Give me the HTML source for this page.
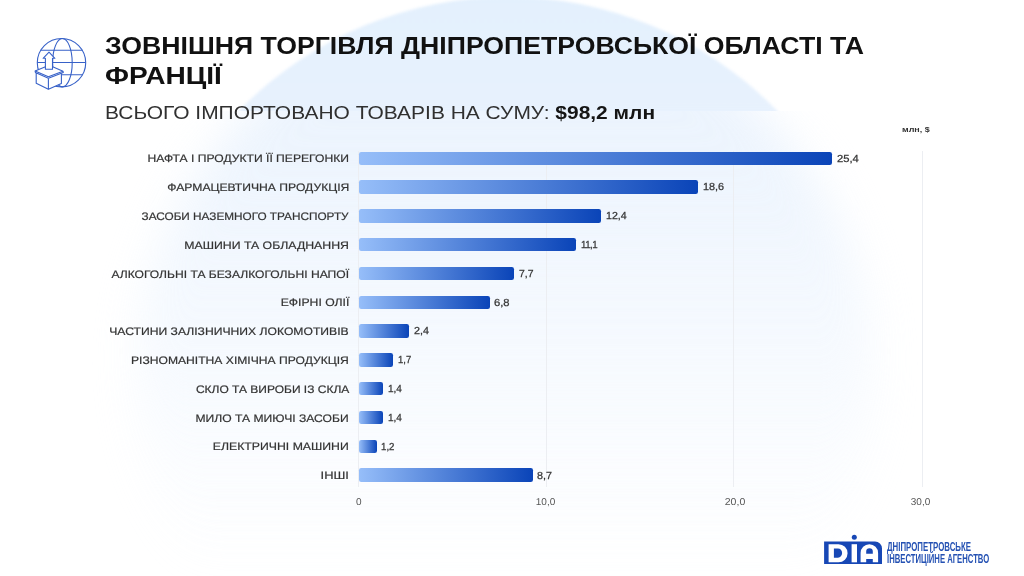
<!DOCTYPE html>
<html lang="uk"><head><meta charset="utf-8"><title>Зовнішня торгівля</title><style>
html,body{margin:0;padding:0}
body{width:1024px;height:576px;position:relative;overflow:hidden;background:#fff;font-family:"Liberation Sans",sans-serif}
.a{position:absolute;white-space:nowrap}
.circ{position:absolute;left:133px;top:-3px;width:750px;height:750px;filter:blur(1.5px);border-radius:50%;
 background:linear-gradient(to bottom,#E3F0FD 0%,#E7F1FD 14%,rgba(236,244,254,0.6) 46%,rgba(255,255,255,0) 78%)}
.panel{position:absolute;left:0;top:111px;width:1024px;height:465px;overflow:hidden;background:#fff}
.circ2{position:absolute;left:137px;top:-99px;width:736px;height:720px;border-radius:50%;filter:blur(22px);opacity:.8;
 background:linear-gradient(to bottom,#E3F0FD 0%,#E7F1FD 14%,rgba(236,244,254,0.6) 46%,rgba(255,255,255,0) 78%)}
.t1{font-weight:700;color:#111;font-size:24.5px;line-height:24.5px;transform-origin:0 0}
.sub{color:#303030;font-size:19px;line-height:19px;transform-origin:0 0}
.lbl{text-rendering:geometricPrecision;color:#333;-webkit-text-stroke:0.2px #333;font-size:10.9px;line-height:10.9px;transform-origin:100% 0;text-align:right}
.val{text-rendering:geometricPrecision;color:#333;-webkit-text-stroke:0.25px #333;font-size:10.2px;line-height:10.2px;transform-origin:0 0}
.ax{text-rendering:geometricPrecision;color:#555;font-size:10px;line-height:10px;transform-origin:50% 0;text-align:center;width:40px}
.bar{position:absolute;height:13.4px;border-radius:2.2px;background:linear-gradient(to right,#96BEF9,#0A44B8)}
.grid{position:absolute;width:1px;background:#ECEEF2}
</style></head><body>
<div class="circ"></div>
<div class="panel"><div class="circ2"></div></div>
<svg class="a" style="left:0;top:0" width="100" height="100" viewBox="0 0 100 100">
<g fill="none" stroke="#3761C8" stroke-width="1.1">
<circle cx="61.5" cy="62.7" r="24.2"/>
<ellipse cx="62.4" cy="62.7" rx="9.8" ry="24.2"/>
<line x1="40.5" y1="50.2" x2="82.5" y2="50.2"/>
<line x1="37.3" y1="62.5" x2="85.7" y2="62.5"/>
<line x1="40.5" y1="74.8" x2="82.5" y2="74.8"/>
</g>
<g fill="#fff" stroke="#3761C8" stroke-width="1.1" stroke-linejoin="round">
<path d="M36.2 73 L36.2 83.2 L48.4 89.3 L61.4 83.5 L61.4 73.5 Z"/>
<path d="M48.4 78.2 L48.4 89.3" fill="none"/>
<path d="M35.1 70.9 L49.2 65.2 L63 71.3 L63.3 72.5 L48.4 78.2 L35.4 72.5 Z"/>
<path d="M35.1 70.9 L48.4 76.7 L63 71.3" fill="none"/>
<path d="M45.4 69.3 V58.3 H43.1 L49 52.2 L54.9 58.3 H52.5 V69.3 Z"/>
</g>
</svg>
<div class="a t1" id="t1" style="left:105px;top:33.71px;transform:scaleX(1.088)">ЗОВНІШНЯ ТОРГІВЛЯ ДНІПРОПЕТРОВСЬКОЇ ОБЛАСТІ ТА</div>
<div class="a t1" id="t2" style="left:105px;top:64.02px;transform:scaleX(1.146)">ФРАНЦІЇ</div>
<div class="a sub" id="s1" style="left:104.9px;top:103.43px;transform:scaleX(1.103)">ВСЬОГО ІМПОРТОВАНО ТОВАРІВ НА СУМУ: <b style="color:#151515">$98,2 млн</b></div>
<div class="a" id="u" style="left:902px;top:126px;font-size:8px;line-height:8px;font-weight:700;color:#333;transform-origin:0 0;transform:scaleX(1.12)">млн, $</div>
<div class="grid" style="left:357.5px;top:150.8px;height:336px"></div>
<div class="grid" style="left:545.5px;top:150.8px;height:336px"></div>
<div class="grid" style="left:733.3px;top:150.8px;height:336px"></div>
<div class="grid" style="left:921.5px;top:150.8px;height:336px"></div>
<div class="bar" style="left:359px;top:151.5px;width:473.3px"></div>
<div class="a lbl" id="l0" style="right:675px;top:154.3px;transform:scaleX(1.1128)">НАФТА І ПРОДУКТИ ЇЇ ПЕРЕГОНКИ</div>
<div class="a val" id="v0" style="left:836.8px;top:154.6px;transform:scaleX(1.1)">25,4</div>
<div class="bar" style="left:359px;top:180.31px;width:339.4px"></div>
<div class="a lbl" id="l1" style="right:675px;top:183.11px;transform:scaleX(1.1147)">ФАРМАЦЕВТИЧНА ПРОДУКЦІЯ</div>
<div class="a val" id="v1" style="left:702.9px;top:183.41px;transform:scaleX(1.063)">18,6</div>
<div class="bar" style="left:359px;top:209.12px;width:242px"></div>
<div class="a lbl" id="l2" style="right:675px;top:211.92px;transform:scaleX(1.0807)">ЗАСОБИ НАЗЕМНОГО ТРАНСПОРТУ</div>
<div class="a val" id="v2" style="left:605.5px;top:212.22px;transform:scaleX(1.042)">12,4</div>
<div class="bar" style="left:359px;top:237.93px;width:217.3px"></div>
<div class="a lbl" id="l3" style="right:675px;top:240.73px;transform:scaleX(1.1285)">МАШИНИ ТА ОБЛАДНАННЯ</div>
<div class="a val" id="v3" style="left:580.8px;top:241.03px;transform:scaleX(0.95);letter-spacing:-0.5px">11,1</div>
<div class="bar" style="left:359px;top:266.74px;width:155px"></div>
<div class="a lbl" id="l4" style="right:675px;top:269.54px;transform:scaleX(1.1103)">АЛКОГОЛЬНІ ТА БЕЗАЛКОГОЛЬНІ НАПОЇ</div>
<div class="a val" id="v4" style="left:518.5px;top:269.84px;transform:scaleX(1.021)">7,7</div>
<div class="bar" style="left:359px;top:295.55px;width:130.7px"></div>
<div class="a lbl" id="l5" style="right:675px;top:298.35px;transform:scaleX(1.12)">ЕФІРНІ ОЛІЇ</div>
<div class="a val" id="v5" style="left:494.2px;top:298.65px;transform:scaleX(1.1)">6,8</div>
<div class="bar" style="left:359px;top:324.36px;width:50.4px"></div>
<div class="a lbl" id="l6" style="right:675px;top:327.16px;transform:scaleX(1.1155)">ЧАСТИНИ ЗАЛІЗНИЧНИХ ЛОКОМОТИВІВ</div>
<div class="a val" id="v6" style="left:413.9px;top:327.46px;transform:scaleX(1.057)">2,4</div>
<div class="bar" style="left:359px;top:353.17px;width:34.4px"></div>
<div class="a lbl" id="l7" style="right:675px;top:355.97px;transform:scaleX(1.1124)">РІЗНОМАНІТНА ХІМІЧНА ПРОДУКЦІЯ</div>
<div class="a val" id="v7" style="left:397.9px;top:356.27px;transform:scaleX(0.93)">1,7</div>
<div class="bar" style="left:359px;top:381.98px;width:24.1px"></div>
<div class="a lbl" id="l8" style="right:675px;top:384.78px;transform:scaleX(1.1014)">СКЛО ТА ВИРОБИ ІЗ СКЛА</div>
<div class="a val" id="v8" style="left:387.6px;top:385.08px;transform:scaleX(0.985)">1,4</div>
<div class="bar" style="left:359px;top:410.79px;width:24.1px"></div>
<div class="a lbl" id="l9" style="right:675px;top:413.59px;transform:scaleX(1.1125)">МИЛО ТА МИЮЧІ ЗАСОБИ</div>
<div class="a val" id="v9" style="left:387.6px;top:413.89px;transform:scaleX(0.985)">1,4</div>
<div class="bar" style="left:359px;top:439.6px;width:17.9px"></div>
<div class="a lbl" id="l10" style="right:675px;top:442.4px;transform:scaleX(1.1261)">ЕЛЕКТРИЧНІ МАШИНИ</div>
<div class="a val" id="v10" style="left:381.4px;top:442.7px;transform:scaleX(0.95)">1,2</div>
<div class="bar" style="left:359px;top:468.41px;width:173.8px"></div>
<div class="a lbl" id="l11" style="right:675px;top:471.21px;transform:scaleX(1.1864)">ІНШІ</div>
<div class="a val" id="v11" style="left:537.3px;top:471.51px;transform:scaleX(1.057)">8,7</div>
<div class="a ax" style="left:338.8px;top:497.6px;transform:scaleX(1)">0</div>
<div class="a ax" style="left:525.5px;top:497.6px;transform:scaleX(1)">10,0</div>
<div class="a ax" style="left:714.7px;top:497.6px;transform:scaleX(1.05)">20,0</div>
<div class="a ax" style="left:900.5px;top:497.6px;transform:scaleX(1)">30,0</div>
<svg class="a" style="left:820px;top:530px" width="70" height="40" viewBox="820 530 70 40">
<path fill="#1747B5" d="M824.1 541.4 H875 A7 7 0 0 1 882 548.4 V564 H824.1 Z"/>
<circle cx="854.3" cy="537.3" r="2.5" fill="#1747B5"/>
<path fill="#fff" fill-rule="evenodd" d="M828.6 544.2 H838.5 A9.1 9.05 0 0 1 838.5 562.3 H828.6 Z M833.9 548.5 V557.7 H838 A4.1 4.6 0 0 0 838 548.5 Z"/>
<rect x="851.6" y="544.2" width="5.4" height="18.1" fill="#fff"/>
<path fill="#fff" fill-rule="evenodd" d="M860.6 562.3 V553 A8.75 8.8 0 0 1 878.1 553 V562.3 H872.8 V559 H866.2 V562.3 Z M866.2 553.8 H872.8 V551.5 A3.3 3.3 0 0 0 866.2 551.5 Z"/>
</svg>
<div class="a" id="g1" style="left:886.6px;top:540.89px;font-size:12.4px;line-height:12.4px;font-weight:700;color:#2451B3;transform-origin:0 0;transform:scaleX(0.634)">ДНІПРОПЕТРОВСЬКЕ</div>
<div class="a" id="g2" style="left:886.6px;top:552.99px;font-size:12.4px;line-height:12.4px;font-weight:700;color:#2451B3;transform-origin:0 0;transform:scaleX(0.6216)">ІНВЕСТИЦІЙНЕ АГЕНСТВО</div>
</body></html>
